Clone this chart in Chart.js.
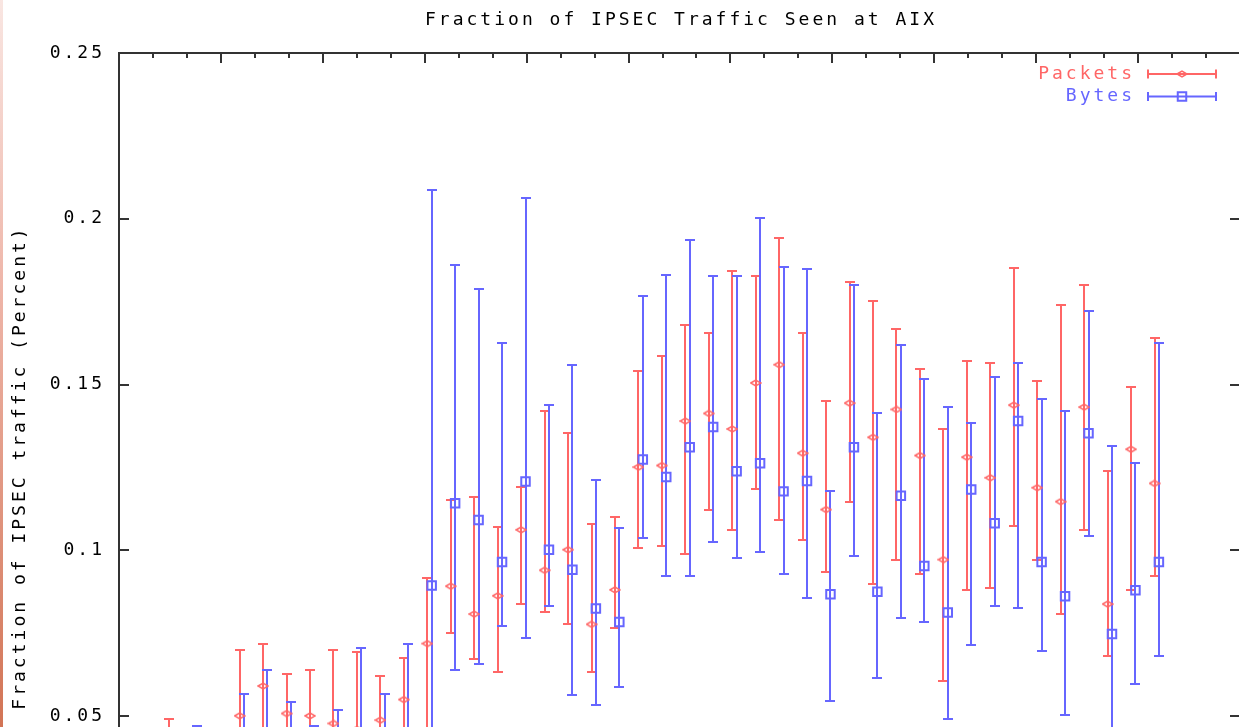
<!DOCTYPE html>
<html>
<head>
<meta charset="utf-8">
<title>Fraction of IPSEC Traffic Seen at AIX</title>
<script src="https://cdn.jsdelivr.net/npm/chart.js@4.4.1/dist/chart.umd.min.js"></script>
<style>
  html, body { margin: 0; padding: 0; background: #fff; overflow: hidden; }
  #wrap { position: relative; width: 1239px; height: 727px; overflow: hidden; }
  #wrap canvas { position: absolute; left: 0; top: 0; }
  #edge {
    position: absolute; left: 0; top: 0; width: 3px; height: 727px;
    background: linear-gradient(to bottom, #f9e6e2, #eeb5a8 40%, #d27455);
  }
</style>
</head>
<body>
<div id="wrap">
  <canvas id="ipsecChart" width="1248" height="890"></canvas>
  <div id="edge"></div>
</div>
<script>
// --- Weekly samples, x = day of the measurement period ---
const days = [15, 22, 29, 36, 43, 50, 57, 64, 71, 78, 85,
              92, 99, 106, 113, 120, 127, 134, 141, 148, 155, 162,
              169, 176, 183, 190, 197, 204, 211, 218, 225, 232, 239,
              246, 253, 260, 267, 274, 281, 288, 295, 302, 309];

// packets: mean with low / high bounds
const packetMean = [0.040, 0.036, 0.035, 0.0501, 0.0591, 0.0508, 0.0501, 0.0478, 0.046, 0.0488, 0.0550,
                    0.0719, 0.0892, 0.0808, 0.0863, 0.1062, 0.0940, 0.1002, 0.0777, 0.0881, 0.1251, 0.1256,
                    0.1390, 0.1413, 0.1366, 0.1505, 0.1560, 0.1293, 0.1123, 0.1444, 0.1341, 0.1425, 0.1286,
                    0.0972, 0.1281, 0.1219, 0.1438, 0.1189, 0.1147, 0.1432, 0.0838, 0.1305, 0.1202];
const packetLow  = [0.032, 0.030, 0.028, 0.036, 0.045, 0.040, 0.038, 0.034, 0.034, 0.038, 0.044,
                    0.045, 0.0752, 0.0674, 0.0633, 0.0837, 0.0814, 0.0777, 0.0633, 0.0765, 0.1007, 0.1014,
                    0.0989, 0.1123, 0.1062, 0.1184, 0.1092, 0.1032, 0.0935, 0.1147, 0.0898, 0.0972, 0.0929,
                    0.0607, 0.0880, 0.0886, 0.1074, 0.0971, 0.0808, 0.1062, 0.0681, 0.0880, 0.0923];
const packetHigh = [0.0491, 0.044, 0.043, 0.0699, 0.0717, 0.0628, 0.0639, 0.0699, 0.0694, 0.0622, 0.0677,
                    0.0917, 0.1153, 0.1161, 0.1070, 0.1191, 0.1419, 0.1353, 0.1079, 0.1100, 0.1541, 0.1585,
                    0.1681, 0.1657, 0.1844, 0.1826, 0.1941, 0.1657, 0.1450, 0.1808, 0.1753, 0.1669, 0.1547,
                    0.1366, 0.1570, 0.1565, 0.1851, 0.1510, 0.1741, 0.1801, 0.1238, 0.1493, 0.1640];

// bytes: mean with low / high bounds
const byteMean = [0.036, 0.040, 0.034, 0.044, 0.045, 0.042, 0.040, 0.041, 0.044, 0.044, 0.045,
                  0.0894, 0.1142, 0.1092, 0.0965, 0.1208, 0.1002, 0.0942, 0.0825, 0.0784, 0.1274, 0.1221,
                  0.1311, 0.1372, 0.1239, 0.1263, 0.1178, 0.1209, 0.0868, 0.1311, 0.0875, 0.1165, 0.0953,
                  0.0813, 0.1184, 0.1082, 0.1390, 0.0965, 0.0862, 0.1353, 0.0748, 0.0880, 0.0965];
const byteLow  = [0.030, 0.033, 0.027, 0.034, 0.033, 0.031, 0.033, 0.031, 0.030, 0.033, 0.030,
                  0.030, 0.0639, 0.0656, 0.0771, 0.0736, 0.0832, 0.0565, 0.0534, 0.0589, 0.1038, 0.0923,
                  0.0923, 0.1025, 0.0978, 0.0995, 0.0929, 0.0856, 0.0546, 0.0984, 0.0614, 0.0796, 0.0783,
                  0.0492, 0.0716, 0.0832, 0.0826, 0.0698, 0.0504, 0.1044, 0.045, 0.0596, 0.0681];
const byteHigh = [0.044, 0.0471, 0.042, 0.0568, 0.0639, 0.0543, 0.0471, 0.0518, 0.0707, 0.0568, 0.0717,
                  0.2086, 0.1862, 0.1789, 0.1625, 0.2063, 0.1437, 0.1559, 0.1213, 0.1069, 0.1766, 0.1832,
                  0.1935, 0.1826, 0.1826, 0.2003, 0.1856, 0.1850, 0.1178, 0.1801, 0.1413, 0.1620, 0.1517,
                  0.1432, 0.1383, 0.1523, 0.1565, 0.1457, 0.1420, 0.1723, 0.1316, 0.1263, 0.1625];

const yTicks = [0, 0.05, 0.1, 0.15, 0.2, 0.25];

// --- Axis layout ---
const X_MAX = 334.5;      // days shown
const MONTHS = 11;        // major x ticks, each split in three
const BYTE_SHIFT = 1.3;   // bytes drawn slightly right of packets

const RED = '#ff6666';
const BLUE = '#6666ff';
const INK = '#000';
const FONT = "'DejaVu Sans Mono', 'Liberation Mono', monospace";
const SPACING = '3px';

// flat diamond used for the packet points
function diamond(color) {
    const c = document.createElement('canvas');
    c.width = 12;
    c.height = 8;
    const g = c.getContext('2d');
    g.strokeStyle = color;
    g.lineWidth = 1.5;
    g.beginPath();
    g.moveTo(1, 4); g.lineTo(6, 1); g.lineTo(11, 4); g.lineTo(6, 7);
    g.closePath();
    g.stroke();
    return c;
}

function points(xs, mean, low, high, shift) {
    return xs.map((d, i) => ({ x: d + shift, y: mean[i], yMin: low[i], yMax: high[i] }));
}

// --- Plugins ---
const wideText = {
    id: 'wideText',
    beforeUpdate(chart) { chart.ctx.letterSpacing = SPACING; },
    beforeDraw(chart) { chart.ctx.letterSpacing = SPACING; }
};

const errorBars = {
    id: 'errorBars',
    beforeDatasetsDraw(chart) {
        const { ctx, chartArea: a, scales: { x, y } } = chart;
        ctx.save();
        ctx.beginPath();
        ctx.rect(a.left, a.top, a.right - a.left, a.bottom - a.top);
        ctx.clip();
        ctx.lineWidth = 2;
        chart.data.datasets.forEach(ds => {
            ctx.strokeStyle = ds.borderColor;
            ctx.beginPath();
            ds.data.forEach(p => {
                const px = Math.round(x.getPixelForValue(p.x));
                const top = Math.round(y.getPixelForValue(p.yMax));
                const bot = Math.round(y.getPixelForValue(p.yMin));
                ctx.moveTo(px, top); ctx.lineTo(px, bot);
                ctx.moveTo(px - 5, top); ctx.lineTo(px + 5, top);
                ctx.moveTo(px - 5, bot); ctx.lineTo(px + 5, bot);
            });
            ctx.stroke();
        });
        ctx.restore();
    }
};

const frame = {
    id: 'frame',
    afterDraw(chart) {
        const { ctx, chartArea: a, scales: { x, y } } = chart;
        ctx.save();
        ctx.strokeStyle = '#333';
        ctx.lineWidth = 2;
        ctx.strokeRect(a.left, a.top, a.right - a.left, a.bottom - a.top);

        // inward ticks, x: monthly majors with two minors between
        ctx.beginPath();
        for (let i = 0; i <= MONTHS * 3; i++) {
            const px = Math.round(x.getPixelForValue(i * X_MAX / (MONTHS * 3)));
            const len = i % 3 === 0 ? 10 : 5;
            ctx.moveTo(px, a.top); ctx.lineTo(px, a.top + len);
            ctx.moveTo(px, a.bottom); ctx.lineTo(px, a.bottom - len);
        }
        yTicks.forEach(v => {
            const py = Math.round(y.getPixelForValue(v));
            ctx.moveTo(a.left, py); ctx.lineTo(a.left + 10, py);
            ctx.moveTo(a.right, py); ctx.lineTo(a.right - 10, py);
        });
        ctx.stroke();

        // title
        ctx.font = '18px ' + FONT;
        ctx.letterSpacing = SPACING;
        ctx.textBaseline = 'middle';
        ctx.textAlign = 'center';
        ctx.fillStyle = INK;
        ctx.fillText(chart.options.plugins.title.text, (a.left + a.right) / 2 + 1.5, 20);

        // legend: label, bar sample with caps, point marker
        ctx.textAlign = 'right';
        chart.data.datasets.forEach((ds, i) => {
            const ly = 74 + i * 22.5;
            const x0 = 1148, x1 = 1216;
            ctx.fillStyle = ds.borderColor;
            ctx.fillText(ds.label, 1135, ly);
            ctx.strokeStyle = ds.borderColor;
            ctx.lineWidth = 2;
            ctx.beginPath();
            ctx.moveTo(x0, ly); ctx.lineTo(x1, ly);
            ctx.moveTo(x0, ly - 4.5); ctx.lineTo(x0, ly + 4.5);
            ctx.moveTo(x1, ly - 4.5); ctx.lineTo(x1, ly + 4.5);
            ctx.stroke();
            ctx.fillStyle = 'rgba(0, 0, 0, 0)';
            Chart.helpers.drawPoint(ctx, {
                pointStyle: ds.pointStyle,
                radius: ds.pointRadius,
                borderWidth: ds.pointBorderWidth,
                rotation: 0
            }, (x0 + x1) / 2, ly);
        });
        ctx.restore();
    }
};

// --- Chart ---
const ctx = document.getElementById('ipsecChart').getContext('2d');
const ipsecChart = new Chart(ctx, {
    type: 'scatter',
    data: {
        datasets: [{
            label: 'Packets',
            data: points(days, packetMean, packetLow, packetHigh, 0),
            borderColor: RED,
            backgroundColor: 'transparent',
            pointStyle: diamond(RED),
            pointRadius: 5,
            pointBorderWidth: 1.5
        }, {
            label: 'Bytes',
            data: points(days, byteMean, byteLow, byteHigh, BYTE_SHIFT),
            borderColor: BLUE,
            backgroundColor: 'transparent',
            pointStyle: 'rect',
            pointRadius: 6,
            pointBorderWidth: 2
        }]
    },
    options: {
        responsive: false,
        animation: false,
        events: [],
        layout: { padding: { top: 53, right: 2, bottom: 0, left: 0 } },
        scales: {
            x: { type: 'linear', min: 0, max: X_MAX, display: false },
            y: {
                type: 'linear',
                min: 0,
                max: 0.25,
                afterBuildTicks: scale => { scale.ticks = yTicks.map(v => ({ value: v })); },
                afterFit: scale => {
                    scale.width = 119;
                    scale.paddingTop = 0;
                    scale.paddingBottom = 0;
                },
                grid: { display: false, drawTicks: false },
                border: { display: false },
                ticks: {
                    color: INK,
                    padding: 14,
                    font: { family: FONT, size: 18 },
                    callback: v => String(v)
                },
                title: {
                    display: true,
                    text: 'Fraction of IPSEC traffic (Percent)',
                    color: INK,
                    font: { family: FONT, size: 18 },
                    padding: { top: 10, bottom: 0 }
                }
            }
        },
        plugins: {
            legend: { display: false },
            tooltip: { enabled: false },
            title: { display: false, text: 'Fraction of IPSEC Traffic Seen at AIX' }
        }
    },
    plugins: [wideText, errorBars, frame]
});
</script>
</body>
</html>
